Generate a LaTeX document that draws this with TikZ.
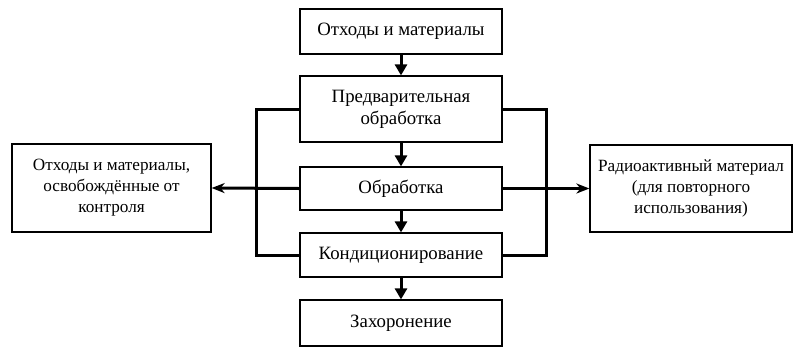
\documentclass[tikz,border=0pt]{standalone}
\usepackage{fontspec}
\setmainfont{Liberation Serif}
\usetikzlibrary{arrows.meta}
\begin{document}
\begin{tikzpicture}[x=1pt,y=-1pt,
  box/.style={draw, line width=1.2pt, rectangle, inner sep=0pt, align=center,
    font=\fontsize{18.8}{22}\selectfont},
  sidebox/.style={box, font=\fontsize{17.2}{21}\selectfont},
  flow/.style={line width=3pt, -{Triangle[length=11pt,width=12pt]}},
  side/.style={line width=3pt, -{Stealth[length=13pt,width=10pt,inset=4pt]}},
  link/.style={line width=3pt}]
\useasboundingbox (0,0) rectangle (800,354);
\node[box, minimum width=202pt, minimum height=45pt] (src) at (401,31.5) {Отходы и материалы};
\node[box, minimum width=202pt, minimum height=66pt] (pre) at (401,109) {Предварительная\\обработка};
\node[box, minimum width=202pt, minimum height=43pt] (obr) at (401,188.5) {Обработка};
\node[box, minimum width=202pt, minimum height=44pt] (kond) at (401,255) {Кондиционирование};
\node[box, minimum width=202pt, minimum height=46pt] (zah) at (401,323) {Захоронение};
\node[sidebox, minimum width=199pt, minimum height=88pt] (left) at (111.5,188) {Отходы и материалы,\\освобождённые от\\контроля};
\node[sidebox, minimum width=202pt, minimum height=87pt] (right) at (691,188.5) {Радиоактивный материал\\(для повторного\\использования)};
\draw[flow] (src) -- (pre);
\draw[flow] (pre) -- (obr);
\draw[flow] (obr) -- (kond);
\draw[flow] (kond) -- (zah);
\draw[link] (pre.west) -- ++(-43,0) |- (kond.west);
\draw[link] (pre.east) -- ++(44,0) |- (kond.east);
\draw[side] (obr.west) -- (left.east);
\draw[side] (obr.east) -- (right.west);
\end{tikzpicture}
\end{document}
